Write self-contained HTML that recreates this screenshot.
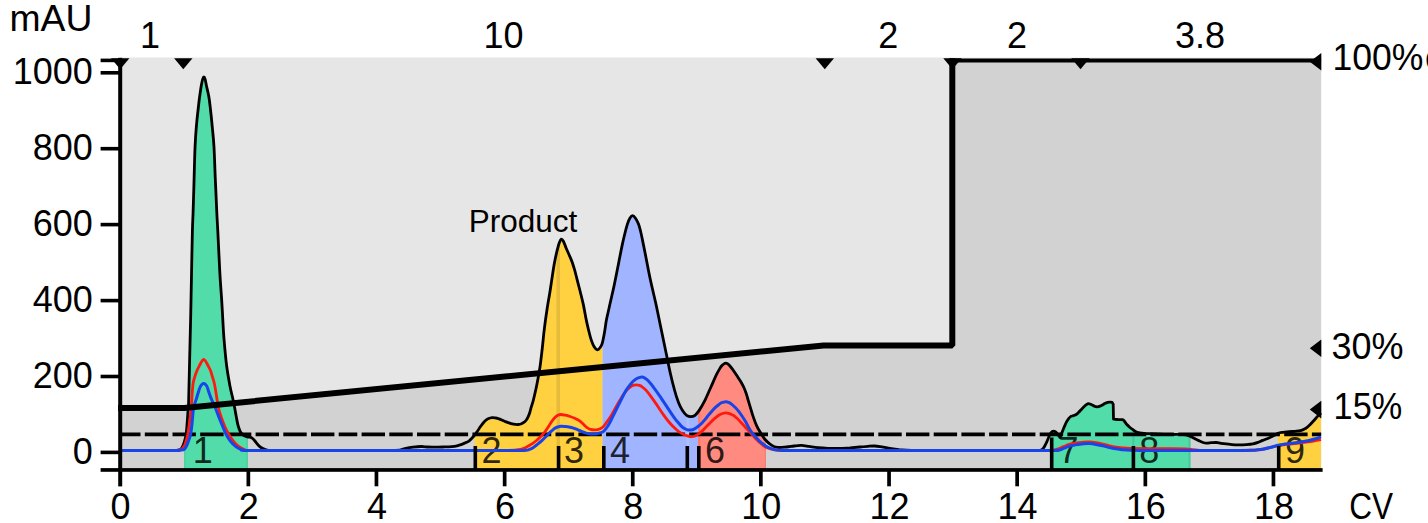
<!DOCTYPE html>
<html lang="en"><head><meta charset="utf-8"><title>Chromatogram</title>
<style>html,body{margin:0;padding:0;background:#fff;}body{width:1428px;height:523px;overflow:hidden;}svg{display:block;}text{font-family:"Liberation Sans",Arial,sans-serif;fill:#000;}</style>
</head><body>
<svg width="1428" height="523" viewBox="0 0 1428 523">
<defs><clipPath id="under"><path d="M120.0,450.5 C125.0,450.5 141.2,450.5 150.0,450.5 C158.8,450.5 168.2,450.6 173.0,450.5 C177.8,450.4 177.6,450.4 179.0,450.0 C180.4,449.6 180.8,449.5 181.6,448.3 C182.4,447.1 183.2,445.6 184.0,443.0 C184.8,440.4 185.6,438.6 186.3,433.0 C187.0,427.4 187.7,414.8 188.1,409.7 C188.5,404.6 188.4,409.9 188.6,402.5 C188.8,395.1 189.2,379.9 189.5,365.5 C189.8,351.1 190.4,330.2 190.7,316.0 C191.0,301.8 191.1,294.7 191.4,280.5 C191.7,266.3 192.1,242.4 192.4,231.0 C192.7,219.6 192.8,221.0 193.1,212.3 C193.4,203.6 193.8,189.8 194.1,178.7 C194.4,167.6 194.7,154.6 195.1,146.0 C195.5,137.4 195.8,133.2 196.3,127.3 C196.8,121.4 197.4,115.5 198.0,110.5 C198.6,105.5 199.0,101.2 199.6,97.0 C200.2,92.8 200.8,88.5 201.3,85.5 C201.8,82.5 202.3,80.5 202.7,79.0 C203.1,77.5 203.5,76.8 203.9,76.8 C204.3,76.8 204.7,77.5 205.1,79.0 C205.5,80.5 205.8,82.5 206.4,85.5 C207.0,88.5 208.2,92.8 208.9,97.0 C209.6,101.2 210.0,105.5 210.6,110.5 C211.2,115.5 211.7,121.2 212.3,127.3 C212.9,133.4 213.5,138.4 214.0,147.0 C214.5,155.6 214.8,167.8 215.3,178.7 C215.8,189.6 216.4,203.6 216.8,212.3 C217.2,221.0 217.3,221.1 217.8,231.0 C218.3,240.9 219.2,260.9 219.8,272.0 C220.4,283.1 221.0,290.0 221.5,297.3 C222.0,304.6 222.2,308.9 222.6,316.0 C223.0,323.1 223.4,331.9 224.1,340.2 C224.8,348.4 225.6,357.9 226.6,365.5 C227.6,373.1 228.8,379.8 229.9,385.7 C231.0,391.6 232.2,395.5 233.3,400.8 C234.4,406.1 235.6,413.2 236.4,417.4 C237.2,421.6 237.5,423.6 238.2,426.0 C238.9,428.4 239.6,430.4 240.5,432.0 C241.4,433.6 242.3,434.5 243.5,435.3 C244.7,436.1 246.2,436.4 247.5,436.8 C248.8,437.2 250.4,437.1 251.6,437.7 C252.8,438.3 253.5,439.4 254.5,440.5 C255.5,441.6 256.6,443.3 257.7,444.5 C258.8,445.7 259.8,446.7 261.0,447.5 C262.2,448.3 263.2,448.8 265.0,449.3 C266.8,449.8 266.2,450.3 272.0,450.5 C277.8,450.7 287.0,450.5 300.0,450.5 C313.0,450.5 334.2,450.5 350.0,450.5 C365.8,450.5 385.9,450.8 395.0,450.5 C404.1,450.2 401.6,449.2 404.6,448.7 C407.6,448.1 410.2,447.6 413.0,447.2 C415.8,446.8 418.9,446.5 421.4,446.5 C423.9,446.5 425.8,446.9 428.0,447.0 C430.2,447.1 432.4,447.2 434.9,447.2 C437.4,447.2 440.2,447.1 443.0,447.0 C445.8,446.9 449.4,446.8 451.7,446.6 C454.0,446.4 455.3,446.2 457.0,445.8 C458.7,445.4 460.3,444.8 461.8,444.3 C463.3,443.8 464.8,443.2 466.0,442.6 C467.2,442.0 468.0,441.7 469.2,440.8 C470.4,439.9 471.7,438.4 473.0,437.0 C474.3,435.6 475.6,433.9 476.8,432.1 C478.1,430.4 479.2,428.3 480.5,426.5 C481.8,424.7 483.2,422.7 484.5,421.4 C485.8,420.1 486.7,419.4 488.0,418.8 C489.3,418.2 490.8,417.7 492.1,417.6 C493.4,417.5 494.7,417.8 496.0,418.0 C497.3,418.2 498.4,418.6 499.8,419.1 C501.2,419.6 503.0,420.6 504.5,421.2 C506.0,421.8 507.4,422.4 508.9,422.9 C510.4,423.4 512.0,423.8 513.5,424.1 C515.0,424.4 516.8,424.6 518.1,424.5 C519.4,424.4 520.5,424.2 521.5,423.8 C522.5,423.4 523.4,422.8 524.2,422.2 C525.0,421.6 525.6,420.9 526.3,420.0 C526.9,419.1 527.5,418.1 528.1,416.8 C528.7,415.6 529.3,414.0 529.8,412.5 C530.3,411.0 530.5,409.7 531.1,407.6 C531.7,405.5 532.6,403.2 533.4,400.0 C534.2,396.8 535.3,392.0 536.1,388.3 C536.9,384.6 537.4,381.7 538.1,378.0 C538.8,374.3 539.4,371.0 540.1,366.2 C540.8,361.4 541.5,355.0 542.2,349.0 C542.9,343.0 543.5,335.8 544.2,330.1 C544.9,324.4 545.5,319.7 546.2,315.0 C546.9,310.3 547.5,306.1 548.2,302.0 C548.9,297.9 549.4,295.6 550.2,290.3 C551.0,285.0 552.4,275.4 553.2,270.2 C554.0,265.0 554.5,262.3 555.2,259.0 C555.9,255.7 556.5,252.9 557.2,250.2 C557.9,247.5 558.5,244.8 559.2,243.0 C559.9,241.2 560.5,239.3 561.2,239.1 C561.9,238.8 562.7,240.0 563.5,241.5 C564.3,243.0 565.2,245.9 566.2,248.2 C567.2,250.4 568.2,252.7 569.2,255.0 C570.2,257.3 571.3,259.6 572.2,262.2 C573.1,264.8 573.9,267.5 574.8,270.5 C575.6,273.5 576.4,276.7 577.3,280.3 C578.2,283.9 579.3,288.0 580.3,292.0 C581.3,296.0 582.3,299.7 583.3,304.4 C584.3,309.1 585.4,315.7 586.3,320.1 C587.2,324.5 588.0,327.7 588.8,331.0 C589.6,334.3 590.4,337.4 591.3,340.1 C592.2,342.8 593.3,345.4 594.3,347.0 C595.3,348.6 596.3,349.7 597.3,349.8 C598.2,349.9 599.2,348.9 600.0,347.8 C600.8,346.7 601.6,345.6 602.3,343.1 C603.0,340.6 603.7,336.8 604.4,333.0 C605.1,329.2 605.7,323.8 606.4,320.1 C607.1,316.4 607.7,314.0 608.4,311.0 C609.1,308.0 609.4,306.4 610.4,302.0 C611.4,297.6 613.1,290.6 614.4,284.3 C615.7,278.0 617.1,270.9 618.4,264.2 C619.7,257.5 621.3,249.3 622.4,244.1 C623.5,238.9 624.2,236.3 625.0,233.0 C625.8,229.7 626.6,226.6 627.4,224.1 C628.2,221.6 629.1,219.4 630.0,218.0 C630.9,216.6 631.6,215.7 632.5,215.7 C633.4,215.7 634.5,216.8 635.5,218.2 C636.5,219.6 637.7,222.0 638.5,224.1 C639.3,226.2 639.8,228.3 640.5,231.0 C641.2,233.7 641.5,235.2 642.5,240.1 C643.5,245.0 645.2,253.5 646.5,260.2 C647.8,266.9 649.0,273.3 650.5,280.3 C652.0,287.3 653.8,294.4 655.5,302.0 C657.2,309.6 658.8,318.0 660.5,326.0 C662.2,334.0 663.8,342.0 665.5,350.0 C667.2,358.0 669.0,367.3 670.5,374.0 C672.0,380.7 673.2,385.2 674.5,390.0 C675.8,394.8 677.2,399.1 678.5,402.5 C679.8,405.9 681.1,408.4 682.5,410.5 C683.9,412.6 685.2,414.3 686.6,415.3 C688.0,416.3 689.4,416.7 690.8,416.7 C692.2,416.7 693.6,416.4 695.0,415.3 C696.4,414.2 697.6,412.8 699.2,410.4 C700.8,407.9 702.9,404.3 704.8,400.6 C706.7,396.9 708.6,392.2 710.5,388.0 C712.4,383.8 714.5,378.8 716.1,375.4 C717.7,372.0 719.3,369.4 720.3,367.7 C721.3,366.0 721.6,365.9 722.2,365.3 C722.8,364.7 723.4,364.2 724.0,363.8 C724.6,363.4 725.3,363.2 725.9,363.2 C726.5,363.2 727.0,363.4 727.6,363.7 C728.2,364.0 728.4,364.2 729.3,365.2 C730.2,366.2 731.4,367.6 732.9,369.8 C734.4,372.0 737.1,376.0 738.5,378.2 C739.9,380.4 740.5,381.2 741.4,382.8 C742.3,384.4 743.3,386.2 744.1,388.0 C744.9,389.8 745.6,391.7 746.3,393.8 C747.0,395.9 747.6,398.3 748.3,400.6 C749.0,402.9 749.7,405.3 750.4,407.6 C751.1,409.9 751.5,411.6 752.5,414.6 C753.5,417.6 755.3,422.8 756.7,425.8 C758.1,428.9 759.3,430.6 760.7,432.9 C762.1,435.2 763.5,437.8 765.3,439.8 C767.1,441.8 769.4,443.8 771.4,445.1 C773.4,446.4 775.0,447.1 777.5,447.4 C780.0,447.7 783.8,447.2 786.5,447.0 C789.2,446.8 791.5,446.3 794.0,446.0 C796.5,445.7 798.7,445.3 801.2,445.4 C803.7,445.5 806.2,446.0 809.0,446.4 C811.8,446.8 814.8,447.4 818.0,447.7 C821.2,448.0 824.5,448.2 828.0,448.3 C831.5,448.4 835.3,448.6 839.0,448.5 C842.7,448.4 846.5,448.1 850.0,447.9 C853.5,447.6 857.0,447.3 860.0,447.0 C863.0,446.7 865.5,446.5 868.0,446.3 C870.5,446.1 872.2,445.9 874.7,446.0 C877.2,446.1 880.2,446.8 883.0,447.2 C885.8,447.6 888.7,448.3 891.5,448.7 C894.3,449.1 896.6,449.5 900.0,449.8 C903.4,450.1 903.7,450.4 912.0,450.5 C920.3,450.6 935.3,450.5 950.0,450.5 C964.7,450.5 985.7,450.5 1000.0,450.5 C1014.3,450.5 1029.2,450.6 1036.0,450.5 C1042.8,450.4 1039.8,450.4 1041.0,450.0 C1042.2,449.6 1042.5,449.4 1043.5,448.0 C1044.5,446.6 1045.9,443.7 1046.8,441.8 C1047.7,439.9 1048.3,438.0 1049.0,436.5 C1049.7,435.0 1050.4,433.6 1051.0,432.7 C1051.6,431.8 1052.2,431.6 1052.8,431.4 C1053.4,431.2 1053.9,431.1 1054.5,431.3 C1055.1,431.5 1055.7,432.0 1056.3,432.6 C1056.9,433.2 1057.4,434.0 1058.0,434.8 C1058.6,435.6 1059.8,437.1 1060.1,437.6 C1060.4,436.7 1061.5,433.8 1062.2,432.0 C1062.9,430.2 1063.6,428.4 1064.3,426.8 C1065.0,425.2 1065.7,423.5 1066.4,422.2 C1067.1,420.9 1067.8,419.7 1068.5,418.8 C1069.2,417.9 1069.8,417.1 1070.6,416.6 C1071.4,416.1 1072.5,416.0 1073.4,415.6 C1074.3,415.2 1075.3,415.1 1076.2,414.5 C1077.1,413.9 1078.1,412.9 1079.0,412.0 C1079.9,411.1 1080.8,409.9 1081.8,408.9 C1082.8,407.9 1084.0,406.7 1085.0,405.8 C1086.0,404.9 1087.0,403.8 1088.1,403.6 C1089.2,403.4 1090.5,404.3 1091.6,404.7 C1092.6,405.1 1093.5,405.8 1094.4,406.2 C1095.3,406.6 1096.3,406.8 1097.2,406.8 C1098.1,406.8 1099.1,406.5 1100.0,406.1 C1100.9,405.8 1101.9,405.2 1102.8,404.7 C1103.7,404.2 1104.5,403.6 1105.3,403.2 C1106.1,402.8 1107.0,402.5 1107.7,402.3 C1108.5,402.1 1109.1,402.1 1109.8,402.1 C1110.5,402.1 1111.3,402.0 1111.9,402.3 C1112.5,402.6 1113.0,403.9 1113.2,404.2 L1113.5,419.0 C1114.1,419.1 1115.5,419.4 1117.0,419.5 C1118.5,419.6 1121.1,419.4 1122.4,419.7 C1123.7,420.0 1123.9,420.7 1124.6,421.5 C1125.3,422.3 1125.8,423.4 1126.6,424.3 C1127.4,425.2 1128.5,426.2 1129.4,427.0 C1130.3,427.8 1131.0,428.4 1132.2,429.2 C1133.4,430.0 1134.8,431.3 1136.4,432.0 C1138.0,432.7 1139.9,432.9 1142.0,433.2 C1144.1,433.5 1146.0,433.5 1149.0,433.7 C1152.0,433.9 1156.5,434.1 1160.0,434.2 C1163.5,434.3 1166.0,434.4 1170.0,434.5 C1174.0,434.6 1180.7,434.2 1184.0,434.5 C1187.3,434.8 1188.1,435.6 1189.8,436.2 C1191.5,436.8 1192.6,437.6 1194.0,438.3 C1195.4,439.0 1196.8,439.8 1198.2,440.4 C1199.6,441.0 1201.0,441.7 1202.4,442.2 C1203.8,442.7 1205.1,443.1 1206.6,443.2 C1208.1,443.3 1209.9,442.8 1211.5,442.7 C1213.1,442.6 1214.8,442.4 1216.4,442.5 C1218.0,442.6 1219.4,443.1 1221.0,443.3 C1222.6,443.5 1224.4,443.7 1226.2,443.9 C1228.0,444.1 1229.9,444.4 1232.0,444.6 C1234.1,444.8 1236.5,444.9 1238.8,444.9 C1241.1,444.9 1243.7,444.9 1246.0,444.7 C1248.3,444.5 1250.8,444.3 1252.8,443.9 C1254.8,443.5 1256.4,443.0 1258.0,442.4 C1259.6,441.8 1260.4,441.3 1262.6,440.4 C1264.8,439.5 1268.4,438.1 1271.0,436.9 C1273.6,435.7 1276.0,434.2 1278.0,433.4 C1280.0,432.6 1281.1,432.6 1283.0,432.3 C1284.9,432.0 1287.2,431.9 1289.2,431.7 C1291.2,431.5 1293.1,431.5 1295.0,431.3 C1296.9,431.1 1298.9,431.0 1300.4,430.6 C1301.9,430.2 1302.8,429.8 1304.0,429.2 C1305.2,428.6 1306.4,427.9 1307.4,427.1 C1308.4,426.3 1309.3,425.4 1310.2,424.5 C1311.1,423.6 1311.7,422.9 1313.0,421.5 C1314.3,420.1 1316.7,417.3 1318.0,415.9 C1319.3,414.5 1320.5,413.4 1321.0,412.9 L1321,469.6 L120,469.6 Z"/></clipPath><clipPath id="plot"><rect x="118" y="58.2" width="1203.2" height="413"/></clipPath></defs>
<rect x="0" y="0" width="1428" height="523" fill="#ffffff"/>
<rect x="120" y="57.8" width="1201.2" height="411.8" fill="#d2d2d2"/>
<polygon points="120,57.8 952.3,57.8 952.3,345.4 823.6,345.4 184.3,407.9 120,407.9" fill="#e6e6e6"/>
<g clip-path="url(#under)">
<rect x="184.2" y="58" width="63.6" height="412" fill="#52dcaa"/>
<rect x="184.2" y="58" width="1.4" height="412" fill="#4ccfa0"/>
<rect x="246.4" y="58" width="1.4" height="412" fill="#4ccfa0"/>
<rect x="474.6" y="58" width="128.0" height="412" fill="#ffd040"/>
<rect x="556.5" y="58" width="3.5" height="412" fill="#e6ba3a"/>
<rect x="602.6" y="58" width="95.6" height="412" fill="#a0b4ff"/>
<rect x="686.4" y="58" width="2.8" height="412" fill="#aebfff"/>
<rect x="698.2" y="58" width="67.8" height="412" fill="#ff8a80"/>
<rect x="698.2" y="58" width="2.0" height="412" fill="#ff7668"/>
<rect x="764.6" y="58" width="1.4" height="412" fill="#f58075"/>
<rect x="1050.3" y="58" width="140.1" height="412" fill="#52dcaa"/>
<rect x="1132.4" y="58" width="2.0" height="412" fill="#47c79a"/>
<rect x="1188.6" y="58" width="1.8" height="412" fill="#47c79a"/>
<rect x="1278.0" y="58" width="43.2" height="412" fill="#ffd040"/>
</g>
<text x="192.8" y="463.3" font-size="36" text-anchor="start" fill-opacity="0.84">1</text>
<text x="481.6" y="463.3" font-size="36" text-anchor="start" fill-opacity="0.84">2</text>
<text x="564.0" y="463.3" font-size="36" text-anchor="start" fill-opacity="0.84">3</text>
<text x="610.0" y="463.3" font-size="36" text-anchor="start" fill-opacity="0.84">4</text>
<text x="705.0" y="463.3" font-size="36" text-anchor="start" fill-opacity="0.84">6</text>
<text x="1058.6" y="463.3" font-size="36" text-anchor="start" fill-opacity="0.84">7</text>
<text x="1139.3" y="463.3" font-size="36" text-anchor="start" fill-opacity="0.84">8</text>
<text x="1285.0" y="463.3" font-size="36" text-anchor="start" fill-opacity="0.84">9</text>
<line x1="121.9" y1="434.4" x2="1321.2" y2="434.4" stroke="#000" stroke-width="3.6" stroke-dasharray="18.6 4.3 23.4 4.3 23.4 4.3 23.4 4.3 23.4 4.3 23.4 4.3 23.4 4.3 23.4 4.3"/>
<path d="M120.0,450.5 C125.0,450.5 141.2,450.5 150.0,450.5 C158.8,450.5 168.2,450.6 173.0,450.5 C177.8,450.4 177.6,450.4 179.0,450.0 C180.4,449.6 180.8,449.5 181.6,448.3 C182.4,447.1 183.2,445.6 184.0,443.0 C184.8,440.4 185.6,438.6 186.3,433.0 C187.0,427.4 187.7,414.8 188.1,409.7 C188.5,404.6 188.4,409.9 188.6,402.5 C188.8,395.1 189.2,379.9 189.5,365.5 C189.8,351.1 190.4,330.2 190.7,316.0 C191.0,301.8 191.1,294.7 191.4,280.5 C191.7,266.3 192.1,242.4 192.4,231.0 C192.7,219.6 192.8,221.0 193.1,212.3 C193.4,203.6 193.8,189.8 194.1,178.7 C194.4,167.6 194.7,154.6 195.1,146.0 C195.5,137.4 195.8,133.2 196.3,127.3 C196.8,121.4 197.4,115.5 198.0,110.5 C198.6,105.5 199.0,101.2 199.6,97.0 C200.2,92.8 200.8,88.5 201.3,85.5 C201.8,82.5 202.3,80.5 202.7,79.0 C203.1,77.5 203.5,76.8 203.9,76.8 C204.3,76.8 204.7,77.5 205.1,79.0 C205.5,80.5 205.8,82.5 206.4,85.5 C207.0,88.5 208.2,92.8 208.9,97.0 C209.6,101.2 210.0,105.5 210.6,110.5 C211.2,115.5 211.7,121.2 212.3,127.3 C212.9,133.4 213.5,138.4 214.0,147.0 C214.5,155.6 214.8,167.8 215.3,178.7 C215.8,189.6 216.4,203.6 216.8,212.3 C217.2,221.0 217.3,221.1 217.8,231.0 C218.3,240.9 219.2,260.9 219.8,272.0 C220.4,283.1 221.0,290.0 221.5,297.3 C222.0,304.6 222.2,308.9 222.6,316.0 C223.0,323.1 223.4,331.9 224.1,340.2 C224.8,348.4 225.6,357.9 226.6,365.5 C227.6,373.1 228.8,379.8 229.9,385.7 C231.0,391.6 232.2,395.5 233.3,400.8 C234.4,406.1 235.6,413.2 236.4,417.4 C237.2,421.6 237.5,423.6 238.2,426.0 C238.9,428.4 239.6,430.4 240.5,432.0 C241.4,433.6 242.3,434.5 243.5,435.3 C244.7,436.1 246.2,436.4 247.5,436.8 C248.8,437.2 250.4,437.1 251.6,437.7 C252.8,438.3 253.5,439.4 254.5,440.5 C255.5,441.6 256.6,443.3 257.7,444.5 C258.8,445.7 259.8,446.7 261.0,447.5 C262.2,448.3 263.2,448.8 265.0,449.3 C266.8,449.8 266.2,450.3 272.0,450.5 C277.8,450.7 287.0,450.5 300.0,450.5 C313.0,450.5 334.2,450.5 350.0,450.5 C365.8,450.5 385.9,450.8 395.0,450.5 C404.1,450.2 401.6,449.2 404.6,448.7 C407.6,448.1 410.2,447.6 413.0,447.2 C415.8,446.8 418.9,446.5 421.4,446.5 C423.9,446.5 425.8,446.9 428.0,447.0 C430.2,447.1 432.4,447.2 434.9,447.2 C437.4,447.2 440.2,447.1 443.0,447.0 C445.8,446.9 449.4,446.8 451.7,446.6 C454.0,446.4 455.3,446.2 457.0,445.8 C458.7,445.4 460.3,444.8 461.8,444.3 C463.3,443.8 464.8,443.2 466.0,442.6 C467.2,442.0 468.0,441.7 469.2,440.8 C470.4,439.9 471.7,438.4 473.0,437.0 C474.3,435.6 475.6,433.9 476.8,432.1 C478.1,430.4 479.2,428.3 480.5,426.5 C481.8,424.7 483.2,422.7 484.5,421.4 C485.8,420.1 486.7,419.4 488.0,418.8 C489.3,418.2 490.8,417.7 492.1,417.6 C493.4,417.5 494.7,417.8 496.0,418.0 C497.3,418.2 498.4,418.6 499.8,419.1 C501.2,419.6 503.0,420.6 504.5,421.2 C506.0,421.8 507.4,422.4 508.9,422.9 C510.4,423.4 512.0,423.8 513.5,424.1 C515.0,424.4 516.8,424.6 518.1,424.5 C519.4,424.4 520.5,424.2 521.5,423.8 C522.5,423.4 523.4,422.8 524.2,422.2 C525.0,421.6 525.6,420.9 526.3,420.0 C526.9,419.1 527.5,418.1 528.1,416.8 C528.7,415.6 529.3,414.0 529.8,412.5 C530.3,411.0 530.5,409.7 531.1,407.6 C531.7,405.5 532.6,403.2 533.4,400.0 C534.2,396.8 535.3,392.0 536.1,388.3 C536.9,384.6 537.4,381.7 538.1,378.0 C538.8,374.3 539.4,371.0 540.1,366.2 C540.8,361.4 541.5,355.0 542.2,349.0 C542.9,343.0 543.5,335.8 544.2,330.1 C544.9,324.4 545.5,319.7 546.2,315.0 C546.9,310.3 547.5,306.1 548.2,302.0 C548.9,297.9 549.4,295.6 550.2,290.3 C551.0,285.0 552.4,275.4 553.2,270.2 C554.0,265.0 554.5,262.3 555.2,259.0 C555.9,255.7 556.5,252.9 557.2,250.2 C557.9,247.5 558.5,244.8 559.2,243.0 C559.9,241.2 560.5,239.3 561.2,239.1 C561.9,238.8 562.7,240.0 563.5,241.5 C564.3,243.0 565.2,245.9 566.2,248.2 C567.2,250.4 568.2,252.7 569.2,255.0 C570.2,257.3 571.3,259.6 572.2,262.2 C573.1,264.8 573.9,267.5 574.8,270.5 C575.6,273.5 576.4,276.7 577.3,280.3 C578.2,283.9 579.3,288.0 580.3,292.0 C581.3,296.0 582.3,299.7 583.3,304.4 C584.3,309.1 585.4,315.7 586.3,320.1 C587.2,324.5 588.0,327.7 588.8,331.0 C589.6,334.3 590.4,337.4 591.3,340.1 C592.2,342.8 593.3,345.4 594.3,347.0 C595.3,348.6 596.3,349.7 597.3,349.8 C598.2,349.9 599.2,348.9 600.0,347.8 C600.8,346.7 601.6,345.6 602.3,343.1 C603.0,340.6 603.7,336.8 604.4,333.0 C605.1,329.2 605.7,323.8 606.4,320.1 C607.1,316.4 607.7,314.0 608.4,311.0 C609.1,308.0 609.4,306.4 610.4,302.0 C611.4,297.6 613.1,290.6 614.4,284.3 C615.7,278.0 617.1,270.9 618.4,264.2 C619.7,257.5 621.3,249.3 622.4,244.1 C623.5,238.9 624.2,236.3 625.0,233.0 C625.8,229.7 626.6,226.6 627.4,224.1 C628.2,221.6 629.1,219.4 630.0,218.0 C630.9,216.6 631.6,215.7 632.5,215.7 C633.4,215.7 634.5,216.8 635.5,218.2 C636.5,219.6 637.7,222.0 638.5,224.1 C639.3,226.2 639.8,228.3 640.5,231.0 C641.2,233.7 641.5,235.2 642.5,240.1 C643.5,245.0 645.2,253.5 646.5,260.2 C647.8,266.9 649.0,273.3 650.5,280.3 C652.0,287.3 653.8,294.4 655.5,302.0 C657.2,309.6 658.8,318.0 660.5,326.0 C662.2,334.0 663.8,342.0 665.5,350.0 C667.2,358.0 669.0,367.3 670.5,374.0 C672.0,380.7 673.2,385.2 674.5,390.0 C675.8,394.8 677.2,399.1 678.5,402.5 C679.8,405.9 681.1,408.4 682.5,410.5 C683.9,412.6 685.2,414.3 686.6,415.3 C688.0,416.3 689.4,416.7 690.8,416.7 C692.2,416.7 693.6,416.4 695.0,415.3 C696.4,414.2 697.6,412.8 699.2,410.4 C700.8,407.9 702.9,404.3 704.8,400.6 C706.7,396.9 708.6,392.2 710.5,388.0 C712.4,383.8 714.5,378.8 716.1,375.4 C717.7,372.0 719.3,369.4 720.3,367.7 C721.3,366.0 721.6,365.9 722.2,365.3 C722.8,364.7 723.4,364.2 724.0,363.8 C724.6,363.4 725.3,363.2 725.9,363.2 C726.5,363.2 727.0,363.4 727.6,363.7 C728.2,364.0 728.4,364.2 729.3,365.2 C730.2,366.2 731.4,367.6 732.9,369.8 C734.4,372.0 737.1,376.0 738.5,378.2 C739.9,380.4 740.5,381.2 741.4,382.8 C742.3,384.4 743.3,386.2 744.1,388.0 C744.9,389.8 745.6,391.7 746.3,393.8 C747.0,395.9 747.6,398.3 748.3,400.6 C749.0,402.9 749.7,405.3 750.4,407.6 C751.1,409.9 751.5,411.6 752.5,414.6 C753.5,417.6 755.3,422.8 756.7,425.8 C758.1,428.9 759.3,430.6 760.7,432.9 C762.1,435.2 763.5,437.8 765.3,439.8 C767.1,441.8 769.4,443.8 771.4,445.1 C773.4,446.4 775.0,447.1 777.5,447.4 C780.0,447.7 783.8,447.2 786.5,447.0 C789.2,446.8 791.5,446.3 794.0,446.0 C796.5,445.7 798.7,445.3 801.2,445.4 C803.7,445.5 806.2,446.0 809.0,446.4 C811.8,446.8 814.8,447.4 818.0,447.7 C821.2,448.0 824.5,448.2 828.0,448.3 C831.5,448.4 835.3,448.6 839.0,448.5 C842.7,448.4 846.5,448.1 850.0,447.9 C853.5,447.6 857.0,447.3 860.0,447.0 C863.0,446.7 865.5,446.5 868.0,446.3 C870.5,446.1 872.2,445.9 874.7,446.0 C877.2,446.1 880.2,446.8 883.0,447.2 C885.8,447.6 888.7,448.3 891.5,448.7 C894.3,449.1 896.6,449.5 900.0,449.8 C903.4,450.1 903.7,450.4 912.0,450.5 C920.3,450.6 935.3,450.5 950.0,450.5 C964.7,450.5 985.7,450.5 1000.0,450.5 C1014.3,450.5 1029.2,450.6 1036.0,450.5 C1042.8,450.4 1039.8,450.4 1041.0,450.0 C1042.2,449.6 1042.5,449.4 1043.5,448.0 C1044.5,446.6 1045.9,443.7 1046.8,441.8 C1047.7,439.9 1048.3,438.0 1049.0,436.5 C1049.7,435.0 1050.4,433.6 1051.0,432.7 C1051.6,431.8 1052.2,431.6 1052.8,431.4 C1053.4,431.2 1053.9,431.1 1054.5,431.3 C1055.1,431.5 1055.7,432.0 1056.3,432.6 C1056.9,433.2 1057.4,434.0 1058.0,434.8 C1058.6,435.6 1059.8,437.1 1060.1,437.6 C1060.4,436.7 1061.5,433.8 1062.2,432.0 C1062.9,430.2 1063.6,428.4 1064.3,426.8 C1065.0,425.2 1065.7,423.5 1066.4,422.2 C1067.1,420.9 1067.8,419.7 1068.5,418.8 C1069.2,417.9 1069.8,417.1 1070.6,416.6 C1071.4,416.1 1072.5,416.0 1073.4,415.6 C1074.3,415.2 1075.3,415.1 1076.2,414.5 C1077.1,413.9 1078.1,412.9 1079.0,412.0 C1079.9,411.1 1080.8,409.9 1081.8,408.9 C1082.8,407.9 1084.0,406.7 1085.0,405.8 C1086.0,404.9 1087.0,403.8 1088.1,403.6 C1089.2,403.4 1090.5,404.3 1091.6,404.7 C1092.6,405.1 1093.5,405.8 1094.4,406.2 C1095.3,406.6 1096.3,406.8 1097.2,406.8 C1098.1,406.8 1099.1,406.5 1100.0,406.1 C1100.9,405.8 1101.9,405.2 1102.8,404.7 C1103.7,404.2 1104.5,403.6 1105.3,403.2 C1106.1,402.8 1107.0,402.5 1107.7,402.3 C1108.5,402.1 1109.1,402.1 1109.8,402.1 C1110.5,402.1 1111.3,402.0 1111.9,402.3 C1112.5,402.6 1113.0,403.9 1113.2,404.2 L1113.5,419.0 C1114.1,419.1 1115.5,419.4 1117.0,419.5 C1118.5,419.6 1121.1,419.4 1122.4,419.7 C1123.7,420.0 1123.9,420.7 1124.6,421.5 C1125.3,422.3 1125.8,423.4 1126.6,424.3 C1127.4,425.2 1128.5,426.2 1129.4,427.0 C1130.3,427.8 1131.0,428.4 1132.2,429.2 C1133.4,430.0 1134.8,431.3 1136.4,432.0 C1138.0,432.7 1139.9,432.9 1142.0,433.2 C1144.1,433.5 1146.0,433.5 1149.0,433.7 C1152.0,433.9 1156.5,434.1 1160.0,434.2 C1163.5,434.3 1166.0,434.4 1170.0,434.5 C1174.0,434.6 1180.7,434.2 1184.0,434.5 C1187.3,434.8 1188.1,435.6 1189.8,436.2 C1191.5,436.8 1192.6,437.6 1194.0,438.3 C1195.4,439.0 1196.8,439.8 1198.2,440.4 C1199.6,441.0 1201.0,441.7 1202.4,442.2 C1203.8,442.7 1205.1,443.1 1206.6,443.2 C1208.1,443.3 1209.9,442.8 1211.5,442.7 C1213.1,442.6 1214.8,442.4 1216.4,442.5 C1218.0,442.6 1219.4,443.1 1221.0,443.3 C1222.6,443.5 1224.4,443.7 1226.2,443.9 C1228.0,444.1 1229.9,444.4 1232.0,444.6 C1234.1,444.8 1236.5,444.9 1238.8,444.9 C1241.1,444.9 1243.7,444.9 1246.0,444.7 C1248.3,444.5 1250.8,444.3 1252.8,443.9 C1254.8,443.5 1256.4,443.0 1258.0,442.4 C1259.6,441.8 1260.4,441.3 1262.6,440.4 C1264.8,439.5 1268.4,438.1 1271.0,436.9 C1273.6,435.7 1276.0,434.2 1278.0,433.4 C1280.0,432.6 1281.1,432.6 1283.0,432.3 C1284.9,432.0 1287.2,431.9 1289.2,431.7 C1291.2,431.5 1293.1,431.5 1295.0,431.3 C1296.9,431.1 1298.9,431.0 1300.4,430.6 C1301.9,430.2 1302.8,429.8 1304.0,429.2 C1305.2,428.6 1306.4,427.9 1307.4,427.1 C1308.4,426.3 1309.3,425.4 1310.2,424.5 C1311.1,423.6 1311.7,422.9 1313.0,421.5 C1314.3,420.1 1316.7,417.3 1318.0,415.9 C1319.3,414.5 1320.5,413.4 1321.0,412.9" fill="none" stroke="#000" stroke-width="2.8" stroke-linejoin="round"/>
<path d="M120.0,450.5 C125.0,450.5 141.0,450.5 150.0,450.5 C159.0,450.5 169.2,450.6 174.0,450.5 C178.8,450.4 177.7,450.2 179.0,450.0 C180.3,449.8 181.0,449.6 181.8,449.0 C182.6,448.4 183.3,447.8 184.0,446.5 C184.7,445.2 185.4,443.5 186.0,441.5 C186.6,439.5 187.1,437.5 187.7,434.6 C188.2,431.7 188.9,427.3 189.3,424.0 C189.8,420.7 190.1,417.7 190.4,415.0 C190.7,412.3 191.0,411.2 191.3,408.0 C191.6,404.8 191.7,400.0 192.0,396.0 C192.3,392.0 192.6,387.3 193.0,384.2 C193.4,381.1 193.9,379.6 194.6,377.3 C195.3,375.0 196.1,372.5 197.1,370.3 C198.1,368.1 199.5,365.6 200.3,364.0 C201.1,362.4 201.4,361.8 202.0,361.0 C202.6,360.2 203.1,359.3 203.7,359.3 C204.3,359.3 204.8,360.2 205.4,361.0 C206.0,361.8 206.4,362.4 207.2,364.0 C208.0,365.6 209.5,368.1 210.4,370.3 C211.3,372.5 211.9,375.0 212.6,377.3 C213.3,379.6 213.8,381.1 214.5,384.2 C215.2,387.3 215.8,392.0 216.5,396.0 C217.2,400.0 217.7,404.3 218.5,408.0 C219.3,411.7 220.4,414.8 221.5,418.0 C222.6,421.2 223.8,424.2 225.0,427.0 C226.2,429.8 227.7,432.4 229.0,434.6 C230.3,436.9 231.7,438.8 233.0,440.5 C234.3,442.2 235.7,443.8 237.0,445.0 C238.3,446.2 239.8,447.2 241.0,448.0 C242.2,448.8 243.0,449.2 244.5,449.6 C246.0,450.0 240.8,450.4 250.0,450.5 C259.2,450.6 275.0,450.5 300.0,450.5 C325.0,450.5 366.7,450.5 400.0,450.5 C433.3,450.5 480.3,450.6 500.0,450.5 C519.7,450.4 514.3,450.0 518.1,449.7 C521.9,449.4 521.5,449.1 523.0,448.6 C524.5,448.1 525.8,447.4 527.3,446.6 C528.8,445.8 530.5,444.9 532.0,443.9 C533.5,442.9 535.1,441.7 536.5,440.5 C537.9,439.3 539.2,438.1 540.5,436.8 C541.8,435.5 542.9,434.5 544.1,432.9 C545.4,431.3 546.7,429.2 548.0,427.3 C549.3,425.4 550.6,423.0 551.8,421.4 C553.0,419.8 554.0,418.5 555.0,417.5 C556.0,416.5 556.9,415.8 557.9,415.3 C558.9,414.8 559.6,414.5 560.9,414.5 C562.2,414.5 564.0,414.9 565.5,415.2 C567.0,415.5 568.6,416.0 570.1,416.5 C571.6,417.0 573.2,417.6 574.7,418.3 C576.2,419.0 577.9,419.7 579.3,420.6 C580.7,421.5 581.7,422.8 583.0,423.9 C584.3,425.0 585.6,426.6 586.9,427.5 C588.1,428.4 589.2,428.9 590.5,429.3 C591.8,429.7 593.4,429.8 594.6,429.8 C595.8,429.9 596.5,429.8 597.5,429.6 C598.5,429.4 599.6,429.2 600.7,428.6 C601.8,428.0 602.9,427.1 604.0,425.8 C605.1,424.5 606.3,422.6 607.5,421.0 C608.7,419.4 609.2,418.9 611.0,416.0 C612.8,413.1 615.7,407.4 618.0,403.4 C620.3,399.4 623.2,394.7 625.0,392.2 C626.8,389.7 627.3,389.6 628.5,388.5 C629.7,387.4 631.0,386.5 632.0,385.9 C633.0,385.3 633.7,385.3 634.5,385.1 C635.3,384.9 636.1,384.8 636.9,384.9 C637.7,384.9 638.7,385.1 639.5,385.4 C640.3,385.7 640.8,385.9 641.8,386.6 C642.8,387.3 644.1,388.4 645.3,389.6 C646.5,390.8 647.0,391.3 648.8,393.6 C650.5,395.9 653.5,400.0 655.8,403.4 C658.1,406.8 660.5,410.6 662.8,413.9 C665.1,417.2 667.5,420.3 669.8,423.0 C672.1,425.7 674.8,428.2 676.8,430.0 C678.8,431.8 680.2,432.6 682.0,433.6 C683.8,434.6 685.6,435.4 687.3,435.9 C688.9,436.4 690.6,436.7 691.9,436.7 C693.2,436.7 694.0,436.4 695.0,436.0 C696.0,435.6 696.9,435.1 698.0,434.4 C699.1,433.7 700.2,432.8 701.5,431.6 C702.8,430.5 704.2,428.9 705.6,427.5 C707.0,426.1 708.5,424.5 710.0,423.0 C711.5,421.5 713.3,419.7 714.8,418.4 C716.3,417.1 717.5,416.0 718.8,415.2 C720.1,414.4 721.3,413.9 722.5,413.5 C723.7,413.1 724.7,412.9 725.9,412.9 C727.1,412.9 728.3,413.2 729.5,413.6 C730.7,414.0 732.0,414.5 733.2,415.3 C734.5,416.1 735.7,417.2 737.0,418.3 C738.3,419.4 739.5,420.9 740.8,422.2 C742.0,423.5 743.2,424.8 744.5,426.2 C745.8,427.6 746.6,428.5 748.5,430.6 C750.4,432.7 754.2,437.0 756.1,439.0 C758.0,441.0 758.7,441.7 760.0,442.8 C761.3,443.9 762.5,445.0 763.8,445.9 C765.0,446.8 766.2,447.3 767.5,447.9 C768.8,448.4 770.1,448.9 771.4,449.2 C772.6,449.5 773.7,449.7 775.0,449.9 C776.3,450.1 776.5,450.1 779.0,450.2 C781.5,450.3 778.2,450.4 790.0,450.5 C801.8,450.6 823.3,450.5 850.0,450.5 C876.7,450.5 918.3,450.5 950.0,450.5 C981.7,450.5 1023.3,450.5 1040.0,450.5 C1056.7,450.5 1047.3,450.6 1050.0,450.5 C1052.7,450.4 1054.3,450.0 1056.0,449.6 C1057.7,449.2 1058.7,448.7 1060.0,448.2 C1061.3,447.7 1062.5,447.0 1064.0,446.4 C1065.5,445.8 1067.4,444.9 1069.2,444.3 C1071.0,443.8 1072.9,443.4 1075.0,443.1 C1077.1,442.8 1079.7,442.5 1082.0,442.3 C1084.3,442.1 1086.5,441.8 1088.8,441.9 C1091.1,442.0 1093.7,442.3 1096.0,442.7 C1098.3,443.1 1100.8,443.6 1102.8,444.0 C1104.8,444.4 1106.1,444.9 1108.0,445.4 C1109.9,445.9 1111.7,446.4 1114.0,446.8 C1116.3,447.2 1119.2,447.6 1122.0,447.9 C1124.8,448.2 1126.1,448.4 1130.8,448.5 C1135.5,448.6 1141.0,448.6 1150.0,448.7 C1159.0,448.8 1177.8,448.6 1185.0,448.8 C1192.2,449.0 1189.7,449.3 1193.0,449.6 C1196.3,449.9 1197.2,450.4 1205.0,450.5 C1212.8,450.6 1232.0,450.6 1240.0,450.5 C1248.0,450.4 1249.8,450.3 1252.8,450.2 C1255.8,450.1 1256.1,450.0 1258.0,449.8 C1259.9,449.6 1261.8,449.4 1264.0,449.0 C1266.2,448.6 1268.7,447.9 1271.0,447.4 C1273.3,446.8 1275.7,446.2 1278.0,445.7 C1280.3,445.2 1282.7,444.8 1285.0,444.5 C1287.3,444.2 1289.7,444.1 1292.0,443.8 C1294.3,443.6 1296.7,443.3 1299.0,443.0 C1301.3,442.7 1304.2,442.2 1306.0,442.0 C1307.8,441.8 1308.6,441.7 1310.0,441.5 C1311.4,441.3 1312.7,441.1 1314.5,440.8 C1316.3,440.5 1319.9,439.8 1321.0,439.6" fill="none" stroke="#ff1a10" stroke-width="2.8" stroke-linejoin="round"/>
<path d="M120.0,450.5 C125.0,450.5 140.7,450.5 150.0,450.5 C159.3,450.5 170.8,450.6 176.0,450.5 C181.2,450.4 179.6,450.3 181.0,450.1 C182.4,449.9 183.3,449.9 184.2,449.2 C185.1,448.5 185.8,447.4 186.5,446.0 C187.2,444.6 187.8,442.9 188.5,441.0 C189.2,439.1 189.9,437.4 190.5,434.6 C191.1,431.8 191.5,428.4 192.0,424.0 C192.5,419.6 192.9,412.1 193.6,408.0 C194.3,403.9 195.4,402.0 196.3,399.1 C197.2,396.2 198.1,392.8 198.8,390.7 C199.5,388.6 199.9,387.6 200.4,386.5 C200.9,385.4 201.4,384.8 202.0,384.3 C202.6,383.8 203.1,383.6 203.7,383.6 C204.3,383.6 204.8,383.8 205.4,384.3 C206.0,384.8 206.5,385.4 207.0,386.5 C207.5,387.6 207.7,388.6 208.4,390.7 C209.1,392.8 210.2,396.2 211.4,399.1 C212.6,402.0 214.1,404.9 215.4,408.0 C216.7,411.1 217.8,414.5 219.0,417.5 C220.2,420.5 221.3,423.1 222.5,426.0 C223.7,428.9 224.9,432.2 226.2,434.6 C227.4,437.0 228.7,438.8 230.0,440.5 C231.3,442.2 232.7,443.8 234.0,445.0 C235.3,446.2 236.7,447.2 238.0,448.0 C239.3,448.8 240.1,449.2 241.6,449.6 C243.1,450.0 237.3,450.4 247.0,450.5 C256.7,450.6 274.5,450.5 300.0,450.5 C325.5,450.5 365.0,450.5 400.0,450.5 C435.0,450.5 489.0,450.5 510.0,450.5 C531.0,450.5 522.5,450.5 525.8,450.3 C529.0,450.1 528.2,449.9 529.5,449.4 C530.8,448.9 532.0,448.3 533.4,447.4 C534.8,446.5 536.5,445.2 538.0,443.9 C539.5,442.6 541.2,441.1 542.6,439.8 C544.0,438.5 545.2,437.3 546.5,436.0 C547.8,434.7 549.0,433.2 550.2,432.1 C551.4,431.0 552.5,430.1 553.5,429.3 C554.5,428.5 555.1,428.0 556.3,427.5 C557.5,427.0 559.4,426.5 560.9,426.3 C562.4,426.1 564.0,426.4 565.5,426.5 C567.0,426.6 568.7,426.9 570.1,427.2 C571.5,427.5 572.7,427.9 574.0,428.3 C575.3,428.7 576.5,429.3 577.8,429.8 C579.0,430.3 580.2,430.9 581.5,431.4 C582.8,431.9 584.1,432.5 585.4,432.9 C586.6,433.3 587.7,433.5 589.0,433.7 C590.3,433.9 591.8,434.0 593.1,434.0 C594.4,434.0 595.7,433.9 597.0,433.7 C598.3,433.5 599.5,433.1 600.7,432.7 C601.9,432.2 602.9,432.0 604.0,431.0 C605.1,430.0 606.3,428.3 607.5,426.5 C608.7,424.7 609.2,423.6 611.0,420.2 C612.8,416.8 615.7,410.9 618.0,406.2 C620.3,401.5 623.2,395.4 625.0,392.2 C626.8,389.0 627.3,388.4 628.5,386.8 C629.7,385.2 630.9,383.6 632.0,382.4 C633.1,381.2 634.1,380.5 635.0,379.8 C635.9,379.1 636.5,378.6 637.6,378.2 C638.7,377.8 640.7,377.2 641.8,377.1 C642.9,377.0 643.3,377.3 644.0,377.6 C644.7,377.9 645.1,378.1 646.0,378.9 C646.9,379.7 648.3,380.9 649.5,382.2 C650.7,383.5 651.2,384.2 653.0,386.6 C654.8,389.0 657.7,393.0 660.0,396.4 C662.3,399.8 664.7,403.4 667.0,406.9 C669.3,410.4 672.2,414.9 674.0,417.4 C675.8,419.9 676.3,420.4 677.5,421.8 C678.7,423.2 679.8,424.7 681.0,425.8 C682.2,426.9 683.3,427.8 684.5,428.5 C685.7,429.2 686.9,429.8 688.0,430.0 C689.1,430.2 690.1,430.1 691.0,430.0 C691.9,429.9 692.4,429.9 693.6,429.3 C694.8,428.7 696.6,427.6 698.0,426.5 C699.4,425.4 700.8,424.3 702.0,423.0 C703.2,421.7 704.3,420.3 705.5,418.9 C706.7,417.5 707.8,416.0 709.0,414.6 C710.2,413.2 711.3,411.9 712.5,410.6 C713.7,409.3 714.9,407.9 716.0,406.9 C717.1,405.9 718.0,405.1 719.0,404.4 C720.0,403.7 720.6,403.1 721.7,402.7 C722.9,402.2 724.7,401.8 725.9,401.7 C727.1,401.6 727.8,402.0 728.7,402.4 C729.6,402.8 730.5,403.3 731.5,404.1 C732.5,404.9 733.8,406.0 735.0,407.2 C736.2,408.4 737.3,409.6 738.5,411.1 C739.7,412.6 740.8,414.2 742.0,416.0 C743.2,417.8 744.0,419.0 745.5,421.6 C747.0,424.2 749.2,428.8 751.0,431.4 C752.8,434.0 754.6,435.8 756.1,437.5 C757.6,439.2 758.7,440.4 760.0,441.6 C761.3,442.8 762.5,443.7 763.8,444.6 C765.0,445.5 766.2,446.3 767.5,447.0 C768.8,447.7 770.1,448.2 771.4,448.7 C772.6,449.1 773.7,449.4 775.0,449.7 C776.3,449.9 776.5,450.1 779.0,450.2 C781.5,450.3 778.2,450.4 790.0,450.5 C801.8,450.6 823.3,450.5 850.0,450.5 C876.7,450.5 918.3,450.5 950.0,450.5 C981.7,450.5 1022.5,450.5 1040.0,450.5 C1057.5,450.5 1051.7,450.6 1055.0,450.5 C1058.3,450.4 1058.5,450.3 1060.0,449.9 C1061.5,449.5 1062.5,448.8 1064.0,448.2 C1065.5,447.6 1067.4,446.7 1069.2,446.1 C1071.0,445.6 1072.9,445.2 1075.0,444.9 C1077.1,444.5 1079.7,444.2 1082.0,444.0 C1084.3,443.8 1086.5,443.5 1088.8,443.6 C1091.1,443.7 1093.7,444.0 1096.0,444.4 C1098.3,444.8 1100.8,445.3 1102.8,445.8 C1104.8,446.3 1106.1,446.7 1108.0,447.2 C1109.9,447.7 1111.7,448.2 1114.0,448.6 C1116.3,449.0 1119.2,449.4 1122.0,449.7 C1124.8,450.0 1126.1,450.2 1130.8,450.3 C1135.5,450.4 1138.5,450.5 1150.0,450.5 C1161.5,450.5 1185.0,450.5 1200.0,450.5 C1215.0,450.5 1231.2,450.5 1240.0,450.5 C1248.8,450.5 1249.8,450.4 1252.8,450.3 C1255.8,450.2 1256.1,450.0 1258.0,449.8 C1259.9,449.6 1261.8,449.3 1264.0,448.9 C1266.2,448.5 1268.7,447.8 1271.0,447.2 C1273.3,446.6 1275.7,445.8 1278.0,445.3 C1280.3,444.8 1282.7,444.5 1285.0,444.1 C1287.3,443.8 1289.7,443.5 1292.0,443.2 C1294.3,442.9 1296.7,442.5 1299.0,442.2 C1301.3,441.9 1304.2,441.4 1306.0,441.1 C1307.8,440.8 1308.6,440.6 1310.0,440.2 C1311.4,439.8 1312.7,439.6 1314.5,439.0 C1316.3,438.4 1319.9,437.2 1321.0,436.8" fill="none" stroke="#1745ea" stroke-width="3.0" stroke-linejoin="round"/>
<g clip-path="url(#plot)" fill="none" stroke="#000">
<polyline points="118,407.9 184.3,407.9 823.6,345.4 952.3,345.4 952.3,58" stroke-width="6.0" stroke-linejoin="bevel"/>
<rect x="949.3" y="58.4" width="372.0" height="4.1" fill="#000" stroke="none"/>
</g>
<rect x="473.5" y="446" width="3.6" height="24" fill="#000"/>
<rect x="556.8" y="446" width="3.6" height="24" fill="#000"/>
<rect x="602.0" y="446" width="3.6" height="24" fill="#000"/>
<rect x="685.5" y="446" width="3.6" height="24" fill="#000"/>
<rect x="697.0" y="446" width="3.6" height="24" fill="#000"/>
<rect x="1131.6" y="446" width="3.6" height="24" fill="#000"/>
<rect x="1276.9" y="446" width="3.6" height="24" fill="#000"/>
<rect x="1049.9" y="437.5" width="3.6" height="32.5" fill="#000"/>
<g fill="#000">
<rect x="118.2" y="57.8" width="4.0" height="428.6"/>
<rect x="100.6" y="468.1" width="1222.0" height="3.7"/>
<rect x="100.6" y="58.6" width="19" height="3.6"/>
<rect x="100.6" y="71.0" width="19" height="3.6"/>
<rect x="100.6" y="146.9" width="19" height="3.6"/>
<rect x="100.6" y="222.8" width="19" height="3.6"/>
<rect x="100.6" y="298.8" width="19" height="3.6"/>
<rect x="100.6" y="374.7" width="19" height="3.6"/>
<rect x="100.6" y="450.6" width="19" height="3.6"/>
<rect x="246.5" y="469" width="3.7" height="17.3"/>
<rect x="374.6" y="469" width="3.7" height="17.3"/>
<rect x="502.8" y="469" width="3.7" height="17.3"/>
<rect x="630.9" y="469" width="3.7" height="17.3"/>
<rect x="759.0" y="469" width="3.7" height="17.3"/>
<rect x="887.2" y="469" width="3.7" height="17.3"/>
<rect x="1015.3" y="469" width="3.7" height="17.3"/>
<rect x="1143.5" y="469" width="3.7" height="17.3"/>
<rect x="1271.6" y="469" width="3.7" height="17.3"/>
<polygon points="111.0,58.2 129.4,58.2 120.2,69.3"/>
<polygon points="174.1,58.2 192.5,58.2 183.3,69.3"/>
<polygon points="815.6,58.2 834.0,58.2 824.8,69.3"/>
<polygon points="943.3,58.2 961.7,58.2 952.5,69.3"/>
<polygon points="1071.3,58.2 1089.7,58.2 1080.5,69.3"/>
<polygon points="1321.3,52.9 1321.3,70.5 1309.8,61.7"/>
<polygon points="1321.3,339.4 1321.3,357.0 1309.8,348.2"/>
<polygon points="1321.3,400.8 1321.3,418.4 1309.8,409.6"/>
</g>
<text x="9.5" y="30.6" font-size="36" text-anchor="start" textLength="83.0" lengthAdjust="spacingAndGlyphs">mAU</text>
<text x="92.8" y="84.1" font-size="36" text-anchor="end">1000</text>
<text x="92.8" y="160.0" font-size="36" text-anchor="end">800</text>
<text x="92.8" y="236.0" font-size="36" text-anchor="end">600</text>
<text x="92.8" y="311.9" font-size="36" text-anchor="end">400</text>
<text x="92.8" y="387.8" font-size="36" text-anchor="end">200</text>
<text x="92.8" y="463.8" font-size="36" text-anchor="end">0</text>
<text x="120.6" y="518.8" font-size="36" text-anchor="middle">0</text>
<text x="248.7" y="518.8" font-size="36" text-anchor="middle">2</text>
<text x="376.9" y="518.8" font-size="36" text-anchor="middle">4</text>
<text x="505.0" y="518.8" font-size="36" text-anchor="middle">6</text>
<text x="633.2" y="518.8" font-size="36" text-anchor="middle">8</text>
<text x="761.3" y="518.8" font-size="36" text-anchor="middle">10</text>
<text x="889.4" y="518.8" font-size="36" text-anchor="middle">12</text>
<text x="1017.6" y="518.8" font-size="36" text-anchor="middle">14</text>
<text x="1145.7" y="518.8" font-size="36" text-anchor="middle">16</text>
<text x="1273.9" y="518.8" font-size="36" text-anchor="middle">18</text>
<text x="1349.3" y="518.8" font-size="36" text-anchor="start" textLength="43.8" lengthAdjust="spacingAndGlyphs">CV</text>
<text x="150.0" y="47.7" font-size="36" text-anchor="middle">1</text>
<text x="503.5" y="47.7" font-size="36" text-anchor="middle">10</text>
<text x="888.3" y="47.7" font-size="36" text-anchor="middle">2</text>
<text x="1016.9" y="47.7" font-size="36" text-anchor="middle">2</text>
<text x="1200.0" y="47.7" font-size="36" text-anchor="middle">3.8</text>
<text x="1332.5" y="70.4" font-size="36" text-anchor="start" textLength="91.0" lengthAdjust="spacingAndGlyphs">100%</text>
<text x="1425.0" y="70.4" font-size="36" text-anchor="start">c</text>
<text x="1331.5" y="358.6" font-size="36" text-anchor="start">30%</text>
<text x="1333.6" y="418.8" font-size="36" text-anchor="start" textLength="68.6" lengthAdjust="spacingAndGlyphs">15%</text>
<text x="468.7" y="231.6" font-size="32" text-anchor="start" textLength="108.6" lengthAdjust="spacingAndGlyphs">Product</text>
</svg></body></html>
